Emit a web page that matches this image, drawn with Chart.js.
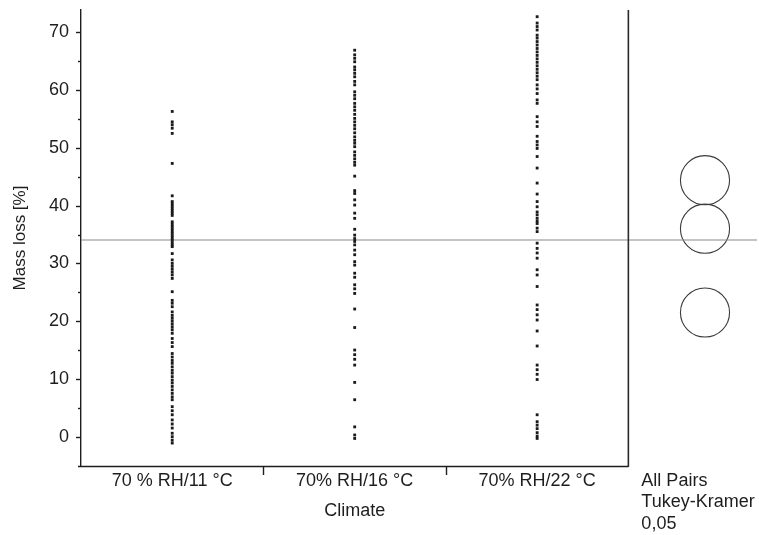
<!DOCTYPE html>
<html>
<head>
<meta charset="utf-8">
<script src="https://cdn.jsdelivr.net/npm/chart.js@4/dist/chart.umd.min.js"></script>
<style>
  html, body { margin: 0; padding: 0; background: #fff; }
  #wrap { width: 759px; height: 535px; }
</style>
</head>
<body>
<div id="wrap"><canvas id="c" width="759" height="535"></canvas></div>
<script>
// ---- data ----
const categories = ["70 % RH/11 °C", "70% RH/16 °C", "70% RH/22 °C"];
const axisTitleX = "Climate";
const axisTitleY = "Mass loss [%]";
const comparisonLabel = ["All Pairs", "Tukey-Kramer", "0,05"];

const massLoss11 = [56.3, 54.5, 54.0, 53.4, 52.5, 47.3, 41.7,
  40.7, 40.3, 39.9, 39.5, 39.1, 38.7, 38.3,
  37.2, 36.8, 36.4, 36.0, 35.6, 35.2, 34.8, 34.4, 34.0, 33.6, 33.2, 32.9,
  31.7, 30.6, 30.0, 29.5, 29.0, 28.5, 28.0, 27.4, 25.1,
  23.6, 23.1, 22.5, 21.6, 21.0, 20.5, 20.0, 19.5, 19.0, 18.5, 17.9,
  17.0, 16.3, 15.6, 14.4, 13.8, 13.2, 12.7, 12.1,
  11.5, 11.0, 10.4, 9.8, 9.3, 8.7, 8.1, 7.5, 6.9, 6.4,
  5.2, 4.5, 3.8, 2.9, 2.2, 1.5, 0.6, 0.0, -0.6, -1.1];

const massLoss16 = [66.9, 66.1, 65.5, 64.9, 64.0, 63.5, 62.9, 62.3, 61.5, 60.9,
  59.7, 59.1, 58.5, 57.7, 57.1, 56.5, 55.8, 55.1,
  54.5, 53.9, 53.3, 52.6, 51.9, 51.3, 50.8, 50.2,
  49.3, 48.7, 48.1, 47.5, 47.0, 45.1, 42.6, 42.1, 41.0, 40.1, 38.7, 37.8,
  35.9, 34.9, 34.3, 33.8, 33.2, 32.3, 31.5, 30.3, 29.7, 28.3, 27.6,
  26.3, 25.6, 24.8, 22.1, 18.9, 15.0, 14.2, 13.4, 12.4, 9.4, 6.4, 1.7, 0.3, -0.3];

const massLoss22 = [72.7, 71.6, 71.0, 70.4, 69.5,
  69.0, 68.4, 67.8, 67.2, 66.6, 66.0, 65.4, 64.8, 64.2, 63.6, 63.0, 62.4, 61.8,
  60.9, 60.2, 59.4, 58.3, 57.7, 55.4, 54.5, 53.7, 52.0, 51.1, 50.5, 49.9,
  48.5, 46.5, 43.9, 42.0, 40.7, 39.8, 38.9, 38.4, 37.8, 37.3, 36.9, 36.1, 35.5,
  33.5, 32.6, 31.8, 30.9, 28.9, 28.0, 26.0, 22.8, 22.0, 21.1, 20.2,
  18.3, 15.7, 12.4, 11.6, 10.8, 9.9, 3.8, 2.6, 2.0, 1.4, 0.7, 0.1, -0.3];

const grandMean = 34.05;
const tukeyCircleCenters = [44.4, 36.0, 21.5];
const tukeyCircleRadius = 4.25;   // in % units
const yTickValues = [0, 5, 10, 15, 20, 25, 30, 35, 40, 45, 50, 55, 60, 65, 70];

// ---- layout helpers (positions on the value scale) ----
const xMax = 3.705;       // 3 category bands + comparison panel
const circleX = 3.42;
const Y_MIN = -5.07, Y_MAX = 73.86;

const series = [massLoss11, massLoss16, massLoss22];
const FONT = "'Liberation Sans', Arial, sans-serif";
const TXT = '#1e1e1e';

const datasets = series.map((vals, i) => ({
  type: 'scatter',
  data: vals.map(v => ({ x: i + 0.5, y: v })),
  pointStyle: 'rect',
  pointRadius: 2.0,
  pointHoverRadius: 2.0,
  pointBackgroundColor: '#1a1a1a',
  pointBorderWidth: 0,
  borderWidth: 0
}));

datasets.push({
  type: 'line',
  data: [{ x: 0, y: grandMean }, { x: xMax, y: grandMean }],
  borderColor: '#8a8a8a',
  borderWidth: 1.2,
  pointRadius: 0,
  fill: false
});

const circleR = (ctx) => {
  const ys = ctx.chart.scales.y;
  return Math.abs(ys.getPixelForValue(0) - ys.getPixelForValue(tukeyCircleRadius));
};
datasets.push({
  type: 'scatter',
  data: tukeyCircleCenters.map(v => ({ x: circleX, y: v })),
  pointStyle: 'circle',
  pointRadius: circleR,
  pointHoverRadius: circleR,
  pointBackgroundColor: 'rgba(0,0,0,0)',
  pointBorderColor: '#3a3a3a',
  pointBorderWidth: 1.1
});

const decor = {
  id: 'decor',
  afterDraw(chart) {
    const { ctx, chartArea: a, scales: { x, y } } = chart;
    ctx.save();
    ctx.strokeStyle = '#1e1e1e';
    ctx.lineWidth = 1.4;
    // y ticks (major / minor)
    yTickValues.forEach(v => {
      const py = Math.round(y.getPixelForValue(v)) + 0.5;
      const len = v % 10 === 0 ? 5 : 3;
      ctx.beginPath();
      ctx.moveTo(a.left - len, py);
      ctx.lineTo(a.left, py);
      ctx.stroke();
    });
    // bottom axis line up to the panel separator
    const sepX = x.getPixelForValue(3);
    ctx.beginPath();
    ctx.moveTo(a.left - 3, a.bottom + 0.5);
    ctx.lineTo(sepX, a.bottom + 0.5);
    ctx.stroke();
    // band boundary ticks
    [1, 2].forEach(b => {
      const px = Math.round(x.getPixelForValue(b)) + 0.5;
      ctx.beginPath();
      ctx.moveTo(px, a.bottom);
      ctx.lineTo(px, a.bottom + 9);
      ctx.stroke();
    });
    // separator between plot and comparison panel
    ctx.strokeStyle = '#2a2a2a';
    ctx.lineWidth = 1.6;
    ctx.beginPath();
    ctx.moveTo(sepX, a.top);
    ctx.lineTo(sepX, a.bottom + 1);
    ctx.stroke();
    // category labels
    ctx.fillStyle = TXT;
    ctx.font = '18px ' + FONT;
    ctx.textAlign = 'center';
    ctx.textBaseline = 'middle';
    categories.forEach((c, i) => {
      ctx.fillText(c, x.getPixelForValue(i + 0.5), a.bottom + 15);
    });
    ctx.fillText(axisTitleX, x.getPixelForValue(1.5), a.bottom + 45);
    // comparison panel caption
    ctx.textAlign = 'left';
    const capX = sepX + 13;
    comparisonLabel.forEach((t, i) => {
      ctx.fillText(t, capX, a.bottom + 15 + i * 21.5);
    });
    ctx.restore();
  }
};

new Chart(document.getElementById('c'), {
  data: { datasets },
  options: {
    responsive: false,
    animation: false,
    events: [],
    layout: { padding: { top: 10, right: 0, bottom: 69, left: 0 } },
    plugins: { legend: { display: false }, tooltip: { enabled: false } },
    scales: {
      x: {
        type: 'linear',
        min: 0,
        max: xMax,
        display: false
      },
      y: {
        type: 'linear',
        position: 'left',
        min: Y_MIN,
        max: Y_MAX,
        afterBuildTicks: (s) => { s.ticks = yTickValues.map(v => ({ value: v })); },
        afterFit: (s) => { s.width = 81; s.paddingTop = 0; s.paddingBottom = 0; },
        border: { display: true, color: '#1e1e1e', width: 1.4 },
        grid: { drawOnChartArea: false, drawTicks: false },
        ticks: {
          padding: 12,
          color: TXT,
          font: { family: FONT, size: 18 },
          callback: (v) => (v % 10 === 0 ? String(v) : '')
        },
        title: {
          display: true,
          text: axisTitleY,
          color: TXT,
          font: { family: FONT, size: 17 },
          padding: { top: 10, bottom: 0 }
        }
      }
    }
  },
  plugins: [decor]
});
</script>
</body>
</html>
